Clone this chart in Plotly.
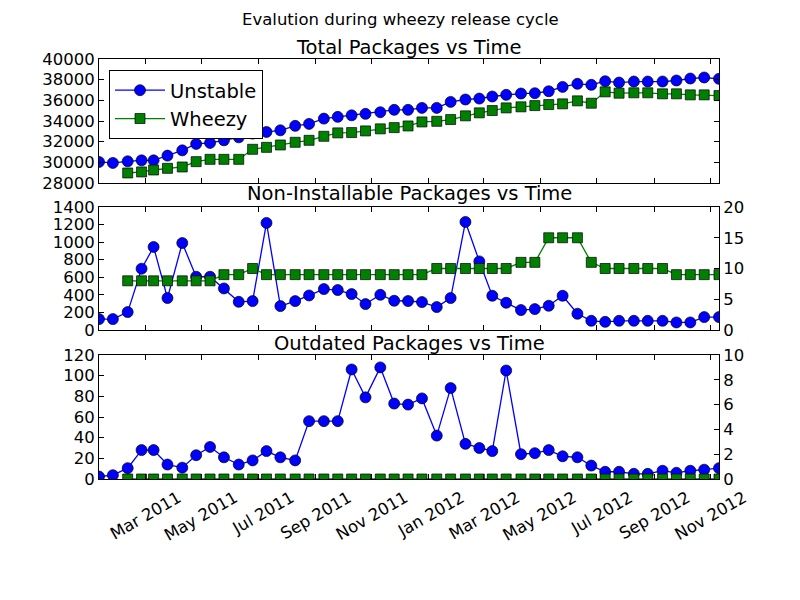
import plotly.graph_objects as go

dates = [
    "2011-01-10", "2011-01-25", "2011-02-10", "2011-02-25", "2011-03-10", "2011-03-25",
    "2011-04-10", "2011-04-25", "2011-05-10", "2011-05-25", "2011-06-10", "2011-06-25",
    "2011-07-10", "2011-07-25", "2011-08-10", "2011-08-25", "2011-09-10", "2011-09-25",
    "2011-10-10", "2011-10-25", "2011-11-10", "2011-11-25", "2011-12-10", "2011-12-25",
    "2012-01-10", "2012-01-25", "2012-02-10", "2012-02-25", "2012-03-10", "2012-03-25",
    "2012-04-10", "2012-04-25", "2012-05-10", "2012-05-25", "2012-06-10", "2012-06-25",
    "2012-07-10", "2012-07-25", "2012-08-10", "2012-08-25", "2012-09-10", "2012-09-25",
    "2012-10-10", "2012-10-25", "2012-11-10",
]

total_unstable = [
    30036, 29940, 30100, 30190, 30190, 30650, 31160, 31780, 31880, 32130,
    32420, 32780, 32940, 33100, 33530, 33720, 34230, 34400, 34550, 34690,
    34850, 35080, 35080, 35270, 35270, 35850, 36080, 36170, 36370, 36530,
    36660, 36690, 36880, 37300, 37600, 37500, 37850, 37720, 37820, 37820,
    37820, 37920, 38110, 38210, 38080,
]
total_wheezy = [
    None, None,
    28970, 29070, 29260, 29420, 29550, 30065, 30290, 30290, 30290, 31260,
    31450, 31680, 31940, 32130, 32520, 32850, 32880, 33040, 33240, 33360,
    33520, 33910, 33970, 34140, 34500, 34790, 35010, 35270, 35370, 35490,
    35590, 35660, 35950, 35720, 36820, 36690, 36730, 36730, 36630, 36630,
    36530, 36530, 36460,
]

noninst_unstable = [
    124, 124, 204, 698, 945, 364, 990, 606, 606, 473,
    321, 329, 1219, 272, 329, 393, 466, 455, 409, 295,
    401, 333, 330, 318, 261, 364, 1230, 781, 390, 310,
    227, 238, 276, 390, 185, 105, 93, 105, 105, 105,
    105, 86, 86, 147, 147,
]
noninst_wheezy = [
    None, None,
    8, 8, 8, 8, 8, 8, 8, 9, 9, 10,
    9, 9, 9, 9, 9, 9, 9, 9, 9, 9, 9,
    9, 10, 10, 10, 10, 10, 10, 11, 11,
    15, 15, 15, 11, 10, 10, 10, 10, 10,
    9, 9, 9, 9,
]

outdated_unstable = [
    2.4, 3.7, 10.5, 28, 28, 14, 11, 23, 31, 21,
    14, 18, 27, 21, 18, 56, 56, 56, 106, 79,
    108, 73, 72, 78, 42, 88, 34, 30, 27, 105,
    24, 25, 28, 22, 21, 13, 7, 7, 5, 5,
    8, 6, 8, 9, 10.5,
]
outdated_wheezy = [
    None, None,
    0, 0, 0, 0, 0, 0, 0, 0, 0, 0,
    0, 0, 0, 0, 0, 0, 0, 0, 0, 0,
    0, 0, 0, 0, 0, 0, 0, 0, 0, 0,
    0, 0, 0, 0, 0, 0, 0, 0, 0, 0,
    0, 0, 0,
]

suptitle = "Evalution during wheezy release cycle"
titles = ["Total Packages vs Time", "Non-Installable Packages vs Time", "Outdated Packages vs Time"]

FONT = "DejaVu Sans"
BLUE = "#0000ff"
GREEN = "#008000"

def unstable_trace(y, xa, ya, show):
    return go.Scatter(x=dates, y=y, xaxis=xa, yaxis=ya, mode="lines+markers", name="Unstable",
                      showlegend=show,
                      line=dict(color=BLUE, width=1.3),
                      marker=dict(symbol="circle", size=11, color=BLUE, line=dict(color="black", width=0.7)))

def wheezy_trace(y, xa, ya, show):
    return go.Scatter(x=dates, y=y, xaxis=xa, yaxis=ya, mode="lines+markers", name="Wheezy",
                      showlegend=show,
                      line=dict(color=GREEN, width=1.3),
                      marker=dict(symbol="square", size=10, color=GREEN, line=dict(color="black", width=0.7)))

fig = go.Figure()
fig.add_trace(unstable_trace(total_unstable, "x", "y", True))
fig.add_trace(wheezy_trace(total_wheezy, "x", "y", True))
fig.add_trace(unstable_trace(noninst_unstable, "x2", "y2", False))
fig.add_trace(wheezy_trace(noninst_wheezy, "x2", "y4", False))
fig.add_trace(unstable_trace(outdated_unstable, "x3", "y3", False))
fig.add_trace(wheezy_trace(outdated_wheezy, "x3", "y5", False))

H = 600.0
dom_top = [1 - 183 / H, 1 - 59 / H]
dom_mid = [1 - 330 / H, 1 - 207 / H]
dom_bot = [1 - 479 / H, 1 - 355 / H]

tickfont = dict(family=FONT, size=16.5, color="black")
xcommon = dict(range=[dates[0], dates[-1]], tick0="2011-03-01", dtick="M2", tickformat="%b %Y",
               ticks="inside", ticklen=5, tickcolor="black", showline=True, linecolor="black",
               linewidth=1, mirror="ticks", showgrid=False, zeroline=False, tickfont=tickfont)
ycommon = dict(ticks="inside", ticklen=5, tickcolor="black", showline=True, linecolor="black",
               linewidth=1, showgrid=False, zeroline=False, tickfont=tickfont, tickformat="d")

fig.update_layout(
    width=800, height=600,
    margin=dict(l=99, r=81, t=0, b=0, autoexpand=False),
    plot_bgcolor="white", paper_bgcolor="white",
    font=dict(family=FONT, color="black"),
    xaxis=dict(domain=[0, 1], anchor="y", showticklabels=False, **xcommon),
    xaxis2=dict(domain=[0, 1], anchor="y2", matches="x", showticklabels=False, **xcommon),
    xaxis3=dict(domain=[0, 1], anchor="y3", matches="x", showticklabels=True, tickangle=-30,
                ticklabelshift=33, ticklabelstandoff=2, **xcommon),
    yaxis=dict(domain=dom_top, anchor="x", range=[28000, 40000], dtick=2000, mirror="ticks", **ycommon),
    yaxis2=dict(domain=dom_mid, anchor="x2", range=[0, 1400], dtick=200, **ycommon),
    yaxis3=dict(domain=dom_bot, anchor="x3", range=[0, 120], dtick=20, **ycommon),
    yaxis4=dict(anchor="x2", overlaying="y2", side="right", range=[0, 20], dtick=5, **ycommon),
    yaxis5=dict(anchor="x3", overlaying="y3", side="right", range=[0, 10], dtick=2, **ycommon),
    legend=dict(x=(109 - 99) / 620, y=1 - 70 / H, xanchor="left", yanchor="top",
                bgcolor="white", bordercolor="black", borderwidth=1, itemwidth=50,
                tracegroupgap=0,
                font=dict(family=FONT, size=19.5, color="black")),
    annotations=[
        dict(text=suptitle, xref="paper", yref="paper", x=(400 - 99) / 620, y=1 - 20 / H,
             xanchor="center", yanchor="middle", showarrow=False,
             font=dict(family=FONT, size=16.5, color="black")),
        dict(text=titles[0], xref="paper", yref="paper", x=0.5, y=1 - 47 / H,
             xanchor="center", yanchor="middle", showarrow=False,
             font=dict(family=FONT, size=19.5, color="black")),
        dict(text=titles[1], xref="paper", yref="paper", x=0.5, y=1 - 194 / H,
             xanchor="center", yanchor="middle", showarrow=False,
             font=dict(family=FONT, size=19.5, color="black")),
        dict(text=titles[2], xref="paper", yref="paper", x=0.5, y=1 - 343 / H,
             xanchor="center", yanchor="middle", showarrow=False,
             font=dict(family=FONT, size=19.5, color="black")),
    ],
)

fig.write_html("out.html")
